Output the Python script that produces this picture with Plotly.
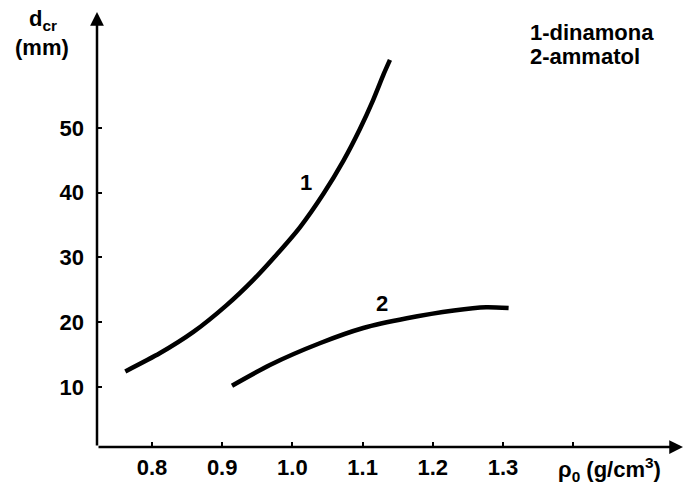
import plotly.graph_objects as go

# Curve 1: dinamona
x1 = [0.762, 0.811, 0.859, 0.906, 0.944, 0.978, 1.011, 1.044, 1.073, 1.096, 1.115, 1.130, 1.139]
y1 = [12.4, 15.2, 18.5, 22.6, 26.5, 30.5, 34.7, 39.8, 45.0, 49.8, 54.3, 58.3, 60.5]
# Curve 2: ammatol
x2 = [0.914, 0.968, 1.039, 1.101, 1.163, 1.230, 1.276, 1.308]
y2 = [10.2, 13.4, 16.75, 19.1, 20.6, 21.8, 22.3, 22.2]

x_tickvals = [0.8, 0.9, 1.0, 1.1, 1.2, 1.3, 1.4]
x_ticktext = ["0.8", "0.9", "1.0", "1.1", "1.2", "1.3", ""]
y_tickvals = [10, 20, 30, 40, 50]
y_ticktext = ["10", "20", "30", "40", "50"]

FONT = "Liberation Sans, Arial, Helvetica, sans-serif"
FS = 22
TF = dict(family=FONT, size=FS, color="black", weight="bold")

fig = go.Figure()
for xs, ys in [(x1, y1), (x2, y2)]:
    fig.add_trace(go.Scatter(x=xs, y=ys, mode="lines",
                             line=dict(color="black", width=4.5, shape="spline", smoothing=0.6),
                             showlegend=False, hoverinfo="skip"))

fig.update_layout(
    width=685, height=487,
    margin=dict(l=97, r=2, t=12, b=40),
    paper_bgcolor="white", plot_bgcolor="white",
    font=TF,
    xaxis=dict(range=[0.7217, 1.5564], tickvals=x_tickvals, ticktext=x_ticktext,
               ticks="inside", ticklen=5, tickwidth=2, tickcolor="black",
               showgrid=False, zeroline=False, showline=False,
               ticklabelstandoff=5, tickfont=TF),
    yaxis=dict(range=[0.73, 67.9], tickvals=y_tickvals, ticktext=y_ticktext,
               ticks="inside", ticklen=5, tickwidth=2, tickcolor="black",
               showgrid=False, zeroline=False, showline=False,
               ticklabelstandoff=12, tickfont=TF),
)

# Axis lines with arrowheads
fig.add_annotation(xref="paper", yref="paper", x=0, y=1, axref="pixel", ayref="pixel",
                   ax=0, ay=435, showarrow=True, arrowhead=2, arrowsize=1.1,
                   arrowwidth=2.5, arrowcolor="black", text="", standoff=0)
fig.add_annotation(xref="paper", yref="paper", x=1, y=0, axref="pixel", ayref="pixel",
                   ax=-586, ay=0, showarrow=True, arrowhead=2, arrowsize=1.1,
                   arrowwidth=2.5, arrowcolor="black", text="", standoff=0)

# Curve labels
fig.add_annotation(x=1.020, y=41.5, text="1", showarrow=False, font=TF)
fig.add_annotation(x=1.127, y=22.9, text="2", showarrow=False, font=TF)

# Legend text
for txt, py in [("1-dinamona", 33), ("2-ammatol", 57)]:
    fig.add_annotation(xref="paper", yref="paper", x=(528 - 97) / 586, y=1 - (py - 12) / 435,
                       xanchor="left", yanchor="middle", align="left", showarrow=False,
                       text=txt, font=TF)

# Axis titles
fig.add_annotation(xref="paper", yref="paper", x=(43 - 97) / 586, y=1 - (20 - 12) / 435,
                   xanchor="center", yanchor="middle", showarrow=False,
                   text="d<sub>cr</sub>", font=TF)
fig.add_annotation(xref="paper", yref="paper", x=(42 - 97) / 586, y=1 - (47 - 12) / 435,
                   xanchor="center", yanchor="middle", showarrow=False,
                   text="(mm)", font=TF)
fig.add_annotation(xref="paper", yref="paper", x=(609 - 97) / 586, y=-(469 - 447) / 435,
                   xanchor="center", yanchor="middle", showarrow=False,
                   text="ρ<sub>0</sub> (g/cm<sup>3</sup>)", font=TF)

fig.write_html("out.html")
